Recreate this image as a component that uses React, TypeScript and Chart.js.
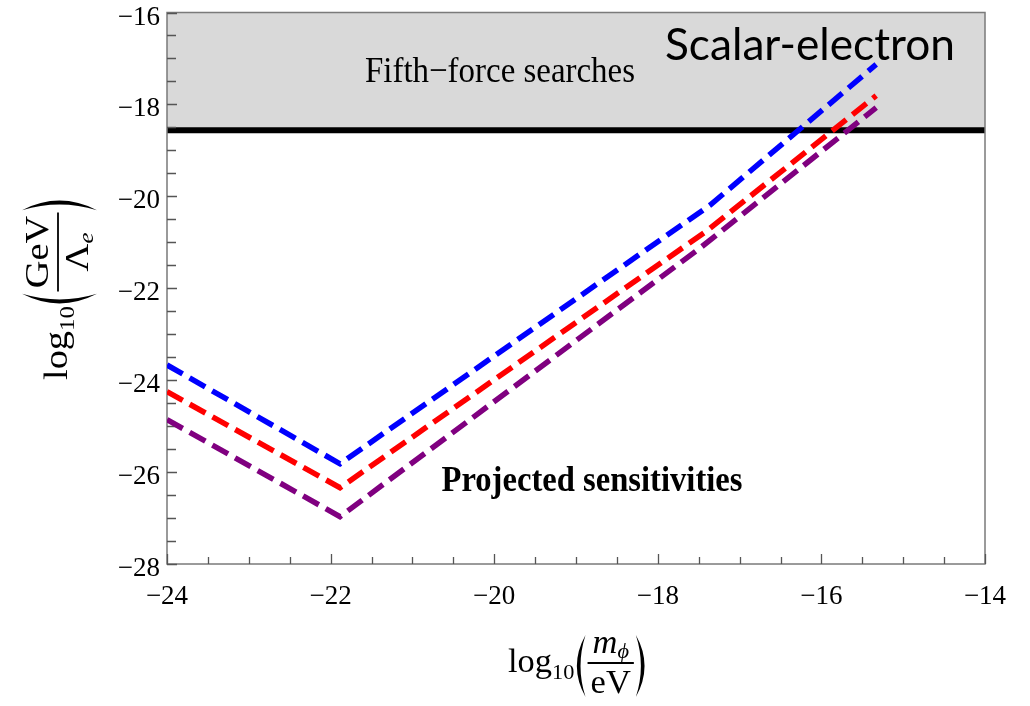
import React, { useEffect, useRef } from "react";
import { Chart, registerables } from "chart.js";

Chart.register(...registerables);

// ---- data ----
const blueX = [-24, -21.885, -17.36, -15.33];
const blueY = [-23.67, -25.82, -20.19, -17.13];
const redX = [-24, -21.885, -17.4, -15.33];
const redY = [-24.25, -26.34, -20.75, -17.81];
const purpleX = [-24, -21.885, -17.48, -15.33];
const purpleY = [-24.86, -26.97, -21.12, -18.07];
const fifthForceLimit = -18.56;
const xRange = [-24, -14];
const yRange = [-28, -16];
const xTicks = [-24, -22, -20, -18, -16, -14];
const yTicks = [-28, -26, -24, -22, -20, -18, -16];
const minorStep = 0.5;

const SERIF = '"Liberation Serif", "DejaVu Serif", serif';
const SANS = 'Lato, "Open Sans", "Noto Sans", sans-serif';

const fmt = (v: number) => (v < 0 ? "\u2212" : "") + Math.abs(v);
const pts = (xs: number[], ys: number[]) => xs.map((x, i) => ({ x, y: ys[i] }));

function fitText(ctx: CanvasRenderingContext2D, text: string, font: string, cx: number, baseline: number, width: number) {
  ctx.save();
  ctx.font = font;
  const w = ctx.measureText(text).width;
  ctx.translate(cx, baseline);
  ctx.scale(width / w, 1);
  ctx.textAlign = "center";
  ctx.textBaseline = "alphabetic";
  ctx.fillStyle = "#000";
  ctx.fillText(text, 0, 0);
  ctx.restore();
}

type Part = { t: string; font: string; dy: number };

function paren(ctx: CanvasRenderingContext2D, x: number, top: number, bot: number, w: number, left: boolean) {
  const mid = (top + bot) / 2;
  ctx.beginPath();
  if (left) {
    ctx.moveTo(x + w, top);
    ctx.quadraticCurveTo(x - w * 0.9, mid, x + w, bot);
    ctx.quadraticCurveTo(x - w * 0.1, mid, x + w, top);
  } else {
    ctx.moveTo(x, top);
    ctx.quadraticCurveTo(x + w * 1.9, mid, x, bot);
    ctx.quadraticCurveTo(x + w * 1.1, mid, x, top);
  }
  ctx.fill();
}

function drawLogFrac(
  ctx: CanvasRenderingContext2D,
  ox: number,
  oy: number,
  rotate: boolean,
  target: number,
  num: Part[],
  den: Part[],
  parTop: number,
  parBot: number
) {
  const main = `34px ${SERIF}`;
  const sub = `22px ${SERIF}`;
  const m = (t: string, f: string) => {
    ctx.font = f;
    return ctx.measureText(t).width;
  };
  ctx.save();
  const wLog = m("log", main);
  const w10 = m("10", sub);
  const numW = num.reduce((s, p) => s + m(p.t, p.font), 0);
  const denW = den.reduce((s, p) => s + m(p.t, p.font), 0);
  const fracW = Math.max(numW, denW) + 6;
  const parW = 9;
  const gap = 2;
  const natural = wLog + w10 + gap + parW + gap + fracW + gap + parW;
  const s = target / natural;
  ctx.translate(ox, oy);
  if (rotate) ctx.rotate(-Math.PI / 2);
  ctx.scale(s, 1);
  ctx.fillStyle = "#000";
  ctx.strokeStyle = "#000";
  ctx.textBaseline = "alphabetic";
  ctx.textAlign = "left";
  let x = 0;
  ctx.font = main;
  ctx.fillText("log", x, 9);
  x += wLog;
  ctx.font = sub;
  ctx.fillText("10", x, 16);
  x += w10 + gap;
  paren(ctx, x, parTop, parBot, parW, true);
  x += parW + gap;
  ctx.lineWidth = 1.8;
  ctx.beginPath();
  ctx.moveTo(x, 0);
  ctx.lineTo(x + fracW, 0);
  ctx.stroke();
  let nx = x + (fracW - numW) / 2;
  for (const p of num) {
    ctx.font = p.font;
    ctx.fillText(p.t, nx, -10 + p.dy);
    nx += m(p.t, p.font);
  }
  let dx = x + (fracW - denW) / 2;
  for (const p of den) {
    ctx.font = p.font;
    ctx.fillText(p.t, dx, 30 + p.dy);
    dx += m(p.t, p.font);
  }
  x += fracW + gap;
  paren(ctx, x, parTop, parBot, parW, false);
  ctx.restore();
}

const decor = {
  id: "decor",
  afterDatasetDraw(chart: any, args: any) {
    if (args.index !== 0) return;
    const { ctx, chartArea: a, scales } = chart;
    const xs = scales.x;
    const ys = scales.y;
    ctx.save();
    ctx.strokeStyle = "#7a7a7a";
    ctx.lineWidth = 1.5;
    ctx.strokeRect(a.left, a.top, a.right - a.left, a.bottom - a.top);
    ctx.lineWidth = 1.3;
    ctx.strokeStyle = "#555";
    ctx.beginPath();
    for (let v = xRange[0]; v <= xRange[1] + 1e-9; v += minorStep) {
      const px = Math.round(xs.getPixelForValue(v)) + 0.5;
      const major = Math.abs(v % 2) < 1e-9;
      ctx.moveTo(px, a.bottom);
      ctx.lineTo(px, a.bottom - (major ? 10 : 7));
    }
    for (let v = yRange[0]; v <= yRange[1] + 1e-9; v += minorStep) {
      const py = Math.round(ys.getPixelForValue(v)) + 0.5;
      const major = Math.abs(v % 2) < 1e-9;
      ctx.moveTo(a.left, py);
      ctx.lineTo(a.left + (major ? 10 : 9), py);
    }
    ctx.stroke();
    ctx.restore();
  },
  afterDatasetsDraw(chart: any) {
    const { ctx, chartArea: a, scales } = chart;
    // tick labels
    ctx.save();
    ctx.fillStyle = "#000";
    ctx.font = `27px ${SERIF}`;
    ctx.textBaseline = "alphabetic";
    ctx.textAlign = "right";
    for (const v of yTicks) {
      const py = scales.y.getPixelForValue(v);
      ctx.fillText(fmt(v), a.left - 7, py + 12);
    }
    ctx.textAlign = "center";
    for (const v of xTicks) {
      const px = scales.x.getPixelForValue(v);
      ctx.fillText(fmt(v), px, a.bottom + 40);
    }
    ctx.restore();

    fitText(ctx, "Fifth\u2212force searches", `36px ${SERIF}`, 500, 82, 270);
    fitText(ctx, "Scalar-electron", `44px ${SANS}`, 810, 60, 290);
    fitText(ctx, "Projected sensitivities", `bold 35px ${SERIF}`, 592, 491, 301);
    drawLogFrac(
      ctx,
      508,
      663,
      false,
      137,
      [
        { t: "m", font: `italic 34px ${SERIF}`, dy: 0 },
        { t: "\u03d5", font: `italic 22px ${SERIF}`, dy: 5 },
      ],
      [{ t: "eV", font: `34px ${SERIF}`, dy: 0 }],
      -28,
      34
    );
    drawLogFrac(
      ctx,
      58,
      380,
      true,
      180,
      [{ t: "GeV", font: `34px ${SERIF}`, dy: 0 }],
      [
        { t: "\u039b", font: `34px ${SERIF}`, dy: 0 },
        { t: "e", font: `italic 22px ${SERIF}`, dy: 5 },
      ],
      -36,
      39
    );
  },
};

export default function App() {
  const ref = useRef<HTMLCanvasElement | null>(null);
  useEffect(() => {
    document.body.style.margin = "0";
    const canvas = ref.current;
    if (!canvas) return;
    const dash = [18, 8];
    const lw = 5.5;
    const chart = new Chart(canvas, {
      type: "scatter",
      data: {
        datasets: [
          {
            data: [
              { x: xRange[0], y: fifthForceLimit },
              { x: xRange[1], y: fifthForceLimit },
            ],
            showLine: true,
            borderColor: "#000",
            borderWidth: 6,
            backgroundColor: "#d9d9d9",
            fill: "end",
            pointRadius: 0,
            order: 10,
          },
          {
            data: pts(blueX, blueY),
            showLine: true,
            borderColor: "#0000ff",
            borderWidth: lw,
            borderDash: dash,
            pointRadius: 0,
            fill: false,
            order: 1,
          },
          {
            data: pts(redX, redY),
            showLine: true,
            borderColor: "#ff0000",
            borderWidth: lw,
            borderDash: dash,
            pointRadius: 0,
            fill: false,
            order: 2,
          },
          {
            data: pts(purpleX, purpleY),
            showLine: true,
            borderColor: "#800080",
            borderWidth: lw,
            borderDash: dash,
            pointRadius: 0,
            fill: false,
            order: 3,
          },
        ],
      } as any,
      options: {
        animation: false,
        responsive: false,
        maintainAspectRatio: false,
        layout: { padding: { left: 0, right: 45, top: 12.5, bottom: 0 } },
        plugins: { legend: { display: false }, tooltip: { enabled: false } },
        scales: {
          x: {
            type: "linear",
            min: xRange[0],
            max: xRange[1],
            afterBuildTicks: (s: any) => {
              s.ticks = xTicks.map((v) => ({ value: v }));
            },
            afterFit: (s: any) => {
              s.height = 142;
            },
            grid: { display: false, drawTicks: false },
            border: { display: false },
            ticks: { display: false },
          },
          y: {
            type: "linear",
            min: yRange[0],
            max: yRange[1],
            afterBuildTicks: (s: any) => {
              s.ticks = yTicks.map((v) => ({ value: v }));
            },
            afterFit: (s: any) => {
              s.width = 167;
            },
            grid: { display: false, drawTicks: false },
            border: { display: false },
            ticks: { display: false },
          },
        },
      } as any,
      plugins: [decor as any],
    });
    return () => chart.destroy();
  }, []);
  return (
    <div style={{ width: 1030, height: 706 }}>
      <canvas ref={ref} width={1030} height={706} style={{ display: "block", width: 1030, height: 706 }} />
    </div>
  );
}
